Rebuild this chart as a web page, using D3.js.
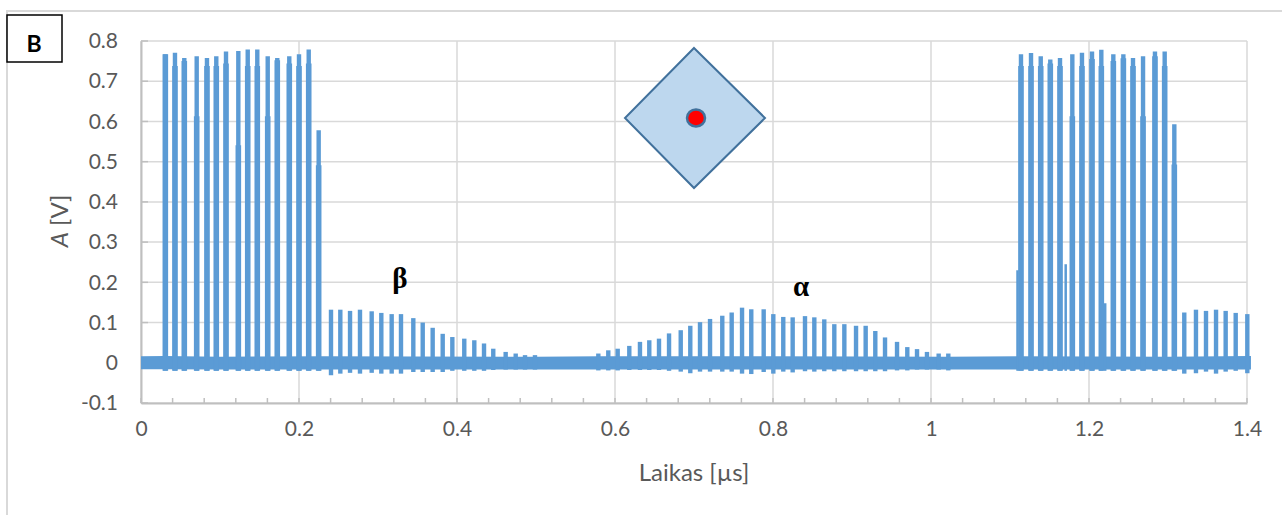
<!DOCTYPE html>
<html>
<head>
<meta charset="utf-8">
<script src="https://cdn.jsdelivr.net/npm/d3@7"></script>
<style>
  html, body { margin: 0; padding: 0; background: #fff; overflow: hidden; }
  text { font-family: Lato, sans-serif; fill: #595959; }
</style>
</head>
<body>
<div id="chart"></div>
<script>
const xTicks = [0, 0.2, 0.4, 0.6, 0.8, 1, 1.2, 1.4];
const yTicks = [-0.1, 0, 0.1, 0.2, 0.3, 0.4, 0.5, 0.6, 0.7, 0.8];
const xMinorTicks = [0.04, 0.08, 0.12, 0.16, 0.24, 0.28, 0.32, 0.36, 0.44, 0.48, 0.52, 0.56, 0.64, 0.68, 0.72, 0.76, 0.84, 0.88, 0.92, 0.96, 1.04, 1.08, 1.12, 1.16, 1.24, 1.28, 1.32, 1.36];

// pulse bursts, values
const burst1Times = [0.0308, 0.043, 0.0548, 0.0705, 0.0835, 0.0953, 0.1076, 0.1232, 0.1351, 0.1472, 0.1604, 0.1725, 0.1877, 0.2, 0.2123, 0.2249];
const burst1Peaks = [0.767, 0.771, 0.758, 0.762, 0.758, 0.762, 0.774, 0.775, 0.779, 0.779, 0.762, 0.758, 0.762, 0.767, 0.779, 0.578];
const burst1Shoulders = [0.767, 0.738, 0.75, 0.613, 0.738, 0.738, 0.744, 0.541, 0.738, 0.738, 0.613, 0.752, 0.744, 0.738, 0.744, 0.491];

const burst2Times = [1.1139, 1.1266, 1.1389, 1.151, 1.1633, 1.1789, 1.1911, 1.2038, 1.2156, 1.2308, 1.2435, 1.2557, 1.2684, 1.2835, 1.2958, 1.308];
const burst2Peaks = [0.767, 0.77, 0.762, 0.754, 0.758, 0.767, 0.771, 0.774, 0.778, 0.767, 0.767, 0.758, 0.762, 0.774, 0.774, 0.593];
const burst2Shoulders = [0.738, 0.738, 0.738, 0.744, 0.738, 0.613, 0.738, 0.755, 0.738, 0.75, 0.757, 0.738, 0.613, 0.762, 0.738, 0.493];

// short side spikes next to the main pulses
const spikeTimes = [1.1095, 1.1705, 1.2205];
const spikePeaks = [0.23, 0.245, 0.148];

// smaller echoes
const betaTimes = [0.2405, 0.2523, 0.2646, 0.2772, 0.292, 0.3042, 0.3173, 0.3291, 0.3447, 0.3566, 0.3692, 0.3819, 0.3941, 0.4092, 0.4219, 0.4342, 0.4459, 0.4616, 0.4743, 0.4861, 0.4987];
const betaPeaks = [0.132, 0.132, 0.129, 0.132, 0.128, 0.124, 0.121, 0.121, 0.111, 0.1, 0.087, 0.072, 0.064, 0.06, 0.056, 0.048, 0.035, 0.027, 0.023, 0.019, 0.019];
const betaDips = [-0.031, -0.027, -0.025, -0.027, -0.025, -0.027, -0.027, -0.027, -0.023, -0.023, -0.023, -0.023, -0.02, -0.02, -0.02, -0.02, -0.018, -0.017, -0.017, -0.017, -0.017];

const alphaTimes = [0.5789, 0.5915, 0.6034, 0.6181, 0.6316, 0.6434, 0.6557, 0.6684, 0.6832, 0.6953, 0.7076, 0.7203, 0.7358, 0.7477, 0.7608, 0.7725, 0.7882, 0.8004, 0.813, 0.8249, 0.8405, 0.8523, 0.8649, 0.8776, 0.8903, 0.9051, 0.9173, 0.9295, 0.9418, 0.957, 0.97, 0.9823, 0.9949, 1.0097, 1.0219];
const alphaPeaks = [0.023, 0.031, 0.035, 0.042, 0.052, 0.056, 0.06, 0.073, 0.081, 0.092, 0.101, 0.109, 0.117, 0.125, 0.137, 0.133, 0.133, 0.121, 0.114, 0.113, 0.116, 0.113, 0.108, 0.096, 0.096, 0.092, 0.092, 0.079, 0.063, 0.052, 0.039, 0.034, 0.027, 0.023, 0.023];
const alphaDips = [-0.019, -0.019, -0.019, -0.018, -0.018, -0.018, -0.018, -0.02, -0.022, -0.026, -0.022, -0.022, -0.022, -0.022, -0.027, -0.028, -0.023, -0.027, -0.022, -0.024, -0.021, -0.022, -0.021, -0.021, -0.021, -0.021, -0.021, -0.021, -0.021, -0.019, -0.019, -0.017, -0.017, -0.017, -0.019];

const tailTimes = [1.3206, 1.3354, 1.3481, 1.3608, 1.373, 1.3857, 1.4004];
const tailPeaks = [0.125, 0.132, 0.129, 0.132, 0.129, 0.124, 0.121];
const tailDips = [-0.027, -0.026, -0.022, -0.027, -0.022, -0.02, -0.026];

// envelope of the dense noise around zero
const noiseTimes = [0, 0.03, 0.1, 0.23, 0.5, 0.58, 0.8, 1.02, 1.11, 1.3, 1.405];
const noiseUpper = [0.016, 0.017, 0.015, 0.016, 0.015, 0.016, 0.016, 0.015, 0.016, 0.015, 0.017];
const noiseLower = [-0.016, -0.016, -0.017, -0.017, -0.017, -0.017, -0.017, -0.017, -0.017, -0.017, -0.017];

const width = 1282, height = 515;
const margin = { top: 41, right: 35, bottom: 112, left: 141 };
const blue = "#5B9BD5";

const svg = d3.select("#chart")
  .append("svg")
  .attr("width", width)
  .attr("height", height);

const x = d3.scaleLinear()
  .domain([0, 1.4])
  .range([margin.left, width - margin.right]);

const y = d3.scaleLinear()
  .domain([-0.1, 0.8])
  .range([height - margin.bottom, margin.top]);

// outer frame of the picture
svg.append("path")
  .attr("d", "M7,515V11H1282")
  .attr("fill", "none")
  .attr("stroke", "#D9D9D9")
  .attr("stroke-width", 2);

// grid
svg.append("g")
  .selectAll("line")
  .data(yTicks)
  .enter()
  .append("line")
  .attr("x1", margin.left)
  .attr("x2", width - margin.right)
  .attr("y1", d => y(d))
  .attr("y2", d => y(d))
  .attr("stroke", "#D9D9D9")
  .attr("stroke-width", 1.5);

svg.append("g")
  .selectAll("line")
  .data(xTicks)
  .enter()
  .append("line")
  .attr("x1", d => x(d))
  .attr("x2", d => x(d))
  .attr("y1", margin.top)
  .attr("y2", height - margin.bottom)
  .attr("stroke", "#D9D9D9")
  .attr("stroke-width", 1.5);

// axes
const xAxis = svg.append("g")
  .attr("transform", `translate(0,${height - margin.bottom})`)
  .call(d3.axisBottom(x).tickValues(xTicks).tickFormat(d => String(d)).tickSize(0).tickPadding(18));

const yAxis = svg.append("g")
  .attr("transform", `translate(${margin.left},0)`)
  .call(d3.axisLeft(y).tickValues(yTicks).tickFormat(d => String(d)).tickSize(0).tickPadding(23));

[xAxis, yAxis].forEach(a => {
  a.selectAll("path").attr("stroke", "#BFBFBF").attr("stroke-width", 2);
  a.selectAll("text").style("font-size", "21px").style("font-family", "Lato, sans-serif").attr("fill", "#595959");
});

svg.append("g")
  .selectAll("line")
  .data(xMinorTicks.concat(xTicks))
  .enter()
  .append("line")
  .attr("x1", d => x(d))
  .attr("x2", d => x(d))
  .attr("y1", height - margin.bottom - 5)
  .attr("y2", height - margin.bottom)
  .attr("stroke", "#BFBFBF")
  .attr("stroke-width", 1.5);

svg.append("g")
  .selectAll("line")
  .data(yTicks)
  .enter()
  .append("line")
  .attr("x1", margin.left)
  .attr("x2", margin.left + 7)
  .attr("y1", d => y(d))
  .attr("y2", d => y(d))
  .attr("stroke", "#BFBFBF")
  .attr("stroke-width", 1.5);

// noise band
const band = d3.area()
  .x((d, i) => x(noiseTimes[i]))
  .y0((d, i) => y(noiseLower[i]))
  .y1((d, i) => y(noiseUpper[i]));

svg.append("path")
  .attr("d", band(noiseTimes))
  .attr("fill", blue);

// wide body of every pulse with a thinner tip on top
function drawPulses(times, tops, bottoms, w) {
  svg.append("g")
    .selectAll("line")
    .data(times)
    .enter()
    .append("line")
    .attr("x1", d => x(d))
    .attr("x2", d => x(d))
    .attr("y1", (d, i) => y(bottoms[i]))
    .attr("y2", (d, i) => y(tops[i]))
    .attr("stroke", blue)
    .attr("stroke-width", w);
}

const burstFloor = burst1Times.map(() => -0.02);
drawPulses(burst1Times, burst1Shoulders, burstFloor, 5.6);
drawPulses(burst1Times, burst1Peaks, burstFloor, 4.4);
drawPulses(burst2Times, burst2Shoulders, burstFloor, 5.6);
drawPulses(burst2Times, burst2Peaks, burstFloor, 4.4);
drawPulses(spikeTimes, spikePeaks, burstFloor, 2.5);
drawPulses(betaTimes, betaPeaks, betaDips, 4.4);
drawPulses(alphaTimes, alphaPeaks, alphaDips, 4.4);
drawPulses(tailTimes, tailPeaks, tailDips, 4.4);

// axis titles
svg.append("text")
  .attr("x", 694)
  .attr("y", 481)
  .attr("text-anchor", "middle")
  .style("font-size", "24px")
  .text("Laikas [µs]");

const yTitle = svg.append("text")
  .attr("transform", "translate(68,221) rotate(-90)")
  .attr("text-anchor", "middle")
  .style("font-size", "24px");
yTitle.append("tspan").style("font-style", "italic").text("A");
yTitle.append("tspan").text(" [V]");

// panel label
svg.append("rect")
  .attr("x", 7)
  .attr("y", 15)
  .attr("width", 55)
  .attr("height", 47)
  .attr("fill", "#fff")
  .attr("stroke", "#000")
  .attr("stroke-width", 1.5);

svg.append("text")
  .attr("x", 34)
  .attr("y", 52)
  .attr("text-anchor", "middle")
  .style("font-size", "23px")
  .style("font-weight", "bold")
  .style("fill", "#000")
  .text("B");

// peak labels
svg.append("text")
  .attr("x", 400)
  .attr("y", 288)
  .attr("text-anchor", "middle")
  .style("font-family", '"Liberation Serif", serif')
  .style("font-size", "29px")
  .style("font-weight", "bold")
  .style("fill", "#000")
  .text("β");

svg.append("text")
  .attr("x", 801)
  .attr("y", 296)
  .attr("text-anchor", "middle")
  .style("font-family", '"Liberation Serif", serif')
  .style("font-size", "29px")
  .style("font-weight", "bold")
  .style("fill", "#000")
  .text("α");

// sample sketch
svg.append("path")
  .attr("d", "M694,48L765,118L694,188L625,118Z")
  .attr("fill", "#BDD7EE")
  .attr("stroke", "#41719C")
  .attr("stroke-width", 2);

svg.append("ellipse")
  .attr("cx", 696)
  .attr("cy", 118)
  .attr("rx", 9)
  .attr("ry", 8.5)
  .attr("fill", "#FF0000")
  .attr("stroke", "#41719C")
  .attr("stroke-width", 2.5);
</script>
</body>
</html>
